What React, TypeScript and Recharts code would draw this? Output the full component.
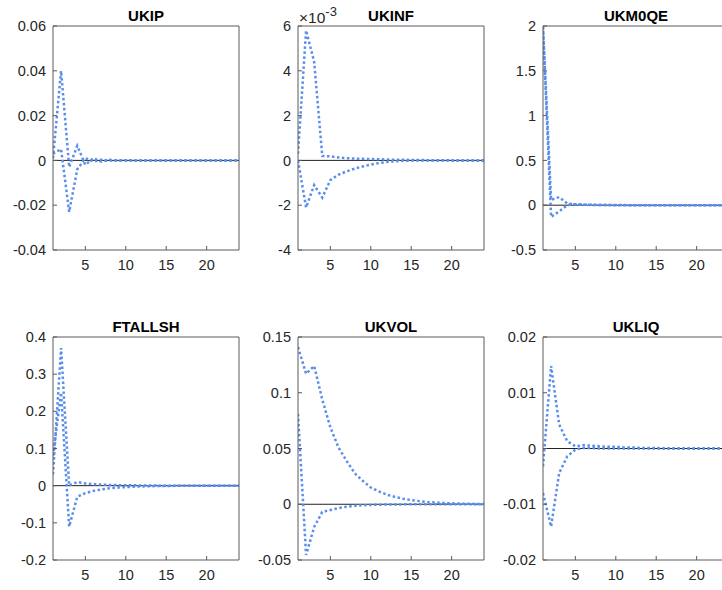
import React from 'react';
import { LineChart, Line, XAxis, YAxis, ReferenceLine, Label } from 'recharts';

const periods = [1, 2, 3, 4, 5, 6, 7, 8, 9, 10, 11, 12, 13, 14, 15, 16, 17, 18, 19, 20, 21, 22, 23, 24];
const xTicks = [5, 10, 15, 20];

// UKIP
const ukipA = [0.001, 0.04, -0.003, 0.0065, -0.002, 0.001, -0.0006, 0.0003, -0.0002, 0.0001, -0.0001, 0, 0, 0, 0, 0, 0, 0, 0, 0, 0, 0, 0, 0];
const ukipB = [0.003, 0.005, -0.023, -0.004, 0.001, -0.0005, 0.0003, -0.0002, 0.0001, 0, 0, 0, 0, 0, 0, 0, 0, 0, 0, 0, 0, 0, 0, 0];
const ukipTicks = [-0.04, -0.02, 0, 0.02, 0.04, 0.06];

// UKINF
const ukinfA = [0.0003, 0.0058, 0.0044, 0.0002, 0.00018, 0.00013, 0.0001, 0.00008, 0.00007, 0.00006, 0.00005, 0.00004, 0.00003, 0.00003, 0.00002, 0.00002, 0.00001, 0.00001, 0.00001, 0, 0, 0, 0, 0];
const ukinfB = [0, -0.0021, -0.0011, -0.00166, -0.00088, -0.00064, -0.00049, -0.00037, -0.00027, -0.00019, -0.00012, -0.00007, -0.00004, -0.00002, -0.00001, 0, 0, 0, 0, 0, 0, 0, 0, 0];
const ukinfTicks = [-0.004, -0.002, 0, 0.002, 0.004, 0.006];

// UKM0QE
const ukm0qeA = [2.0, 0.06, 0.09, 0.02, 0.01, 0.006, 0.004, 0.003, 0.002, 0.001, 0.001, 0, 0, 0, 0, 0, 0, 0, 0, 0, 0, 0, 0, 0];
const ukm0qeB = [1.98, -0.13, -0.07, 0.0, 0.01, 0.005, 0.003, 0.002, 0.001, 0, 0, 0, 0, 0, 0, 0, 0, 0, 0, 0, 0, 0, 0, 0];
const ukm0qeTicks = [-0.5, 0, 0.5, 1, 1.5, 2];

// FTALLSH
const ftallshA = [0.03, 0.37, 0.0, 0.01, 0.006, 0.004, 0.003, 0.002, 0.0015, 0.001, 0.001, 0.0005, 0.0005, 0, 0, 0, 0, 0, 0, 0, 0, 0, 0, 0];
const ftallshB = [0.08, 0.25, -0.11, -0.03, -0.02, -0.014, -0.01, -0.007, -0.005, -0.004, -0.003, -0.002, -0.0015, -0.001, -0.001, -0.0005, -0.0005, 0, 0, 0, 0, 0, 0, 0];
const ftallshTicks = [-0.2, -0.1, 0, 0.1, 0.2, 0.3, 0.4];

// UKVOL
const ukvolA = [0.141, 0.117, 0.124, 0.094, 0.069, 0.051, 0.039, 0.028, 0.021, 0.015, 0.0115, 0.0086, 0.0065, 0.005, 0.0037, 0.0028, 0.002, 0.0015, 0.0011, 0.0008, 0.0006, 0.0004, 0.0003, 0.0002];
const ukvolB = [0.081, -0.0455, -0.0204, -0.0069, -0.0052, -0.0035, -0.0022, -0.0014, -0.0009, -0.0006, -0.0004, -0.0003, -0.0002, -0.0001, 0, 0, 0, 0, 0, 0, 0, 0, 0, 0];
const ukvolTicks = [-0.05, 0, 0.05, 0.1, 0.15];

// UKLIQ
const ukliqA = [-0.0032, 0.0148, 0.0043, 0.0013, 0.0004, 0.0006, 0.0005, 0.0004, 0.0003, 0.0003, 0.0002, 0.0002, 0.0001, 0.0001, 0.0001, 0, 0, 0, 0, 0, 0, 0, 0, 0];
const ukliqB = [-0.008, -0.014, -0.0044, -0.0014, -0.0002, 0.0001, 0.0001, 0, 0, 0, 0, 0, 0, 0, 0, 0, 0, 0, 0, 0, 0, 0, 0, 0];
const ukliqTicks = [-0.02, -0.01, 0, 0.01, 0.02];

const FONT = '"Liberation Sans", Arial, Helvetica, sans-serif';
const AXIS = '#5a5a5a';
const TXT = '#262626';
const BLUE = '#5a8eea';

type PanelProps = {
  title: string;
  a: number[];
  b: number[];
  ticks: number[];
  left: number;
  top: number;
  plotH: number;
  fmt?: (v: number) => string;
  exponent?: string;
};

const Panel = ({ title, a, b, ticks, left, top, plotH, fmt, exponent }: PanelProps) => {
  const data = periods.map((p, i) => ({ t: p, a: a[i], b: b[i] }));
  const domain = [ticks[0], ticks[ticks.length - 1]];
  const tickStyle = { fill: TXT, fontSize: 14.5, fontFamily: FONT };
  return (
    <div style={{ position: 'absolute', left, top }}>
      <LineChart width={241} height={26 + plotH + 30} data={data} margin={{ top: 26, right: 2, bottom: 0, left: 0 }}>
        <XAxis
          dataKey="t"
          type="number"
          domain={[1, 24]}
          ticks={xTicks}
          interval={0}
          allowDataOverflow
          height={30}
          stroke={AXIS}
          tickSize={-4}
          tickMargin={14}
          tick={tickStyle}
        />
        <XAxis
          xAxisId="top"
          orientation="top"
          mirror
          type="number"
          domain={[1, 24]}
          ticks={xTicks}
          interval={0}
          allowDataOverflow
          stroke={AXIS}
          tickSize={4}
          tick={false}
        >
          <Label value={title} position="top" offset={5} style={{ fontSize: 15, fontWeight: 'bold', fill: '#000', fontFamily: FONT }} />
        </XAxis>
        <YAxis
          type="number"
          domain={domain}
          ticks={ticks}
          interval={0}
          allowDataOverflow
          width={53}
          stroke={AXIS}
          tickSize={-4}
          tickMargin={11}
          tick={tickStyle}
          tickFormatter={fmt}
        >
          {exponent ? (
            <Label
              content={(props: any) => {
                const vb = props.viewBox || { x: 0, y: 26, width: 53 };
                return (
                  <text x={vb.x + vb.width + 1} y={vb.y - 3} fill={TXT} fontSize={15.5} fontFamily={FONT}>
                    ×10
                    <tspan dy={-7} fontSize={13}>{exponent}</tspan>
                  </text>
                );
              }}
            />
          ) : null}
        </YAxis>
        <YAxis
          yAxisId="right"
          orientation="right"
          mirror
          type="number"
          domain={domain}
          ticks={ticks}
          interval={0}
          allowDataOverflow
          stroke={AXIS}
          tickSize={4}
          tick={false}
        />
        <ReferenceLine y={0} stroke="#222" strokeWidth={1} />
        <Line dataKey="a" stroke={BLUE} strokeWidth={2.5} strokeDasharray="2.5 2.5" dot={false} isAnimationActive={false} />
        <Line dataKey="b" stroke={BLUE} strokeWidth={2.5} strokeDasharray="2.5 2.5" dot={false} isAnimationActive={false} />
      </LineChart>
    </div>
  );
};

const fmtInf = (v: number) => String(Math.round(v * 1000));

export default function App() {
  return (
    <div style={{ position: 'absolute', left: 0, top: 0, width: 722, height: 590, overflow: 'hidden', background: '#fff' }}>
      <Panel title="UKIP" a={ukipA} b={ukipB} ticks={ukipTicks} left={0} top={0} plotH={224} />
      <Panel title="UKINF" a={ukinfA} b={ukinfB} ticks={ukinfTicks} left={245} top={0} plotH={224} fmt={fmtInf} exponent="-3" />
      <Panel title="UKM0QE" a={ukm0qeA} b={ukm0qeB} ticks={ukm0qeTicks} left={490} top={0} plotH={224} />
      <Panel title="FTALLSH" a={ftallshA} b={ftallshB} ticks={ftallshTicks} left={0} top={311} plotH={223} />
      <Panel title="UKVOL" a={ukvolA} b={ukvolB} ticks={ukvolTicks} left={245} top={311} plotH={223} />
      <Panel title="UKLIQ" a={ukliqA} b={ukliqB} ticks={ukliqTicks} left={490} top={311} plotH={223} />
    </div>
  );
}
